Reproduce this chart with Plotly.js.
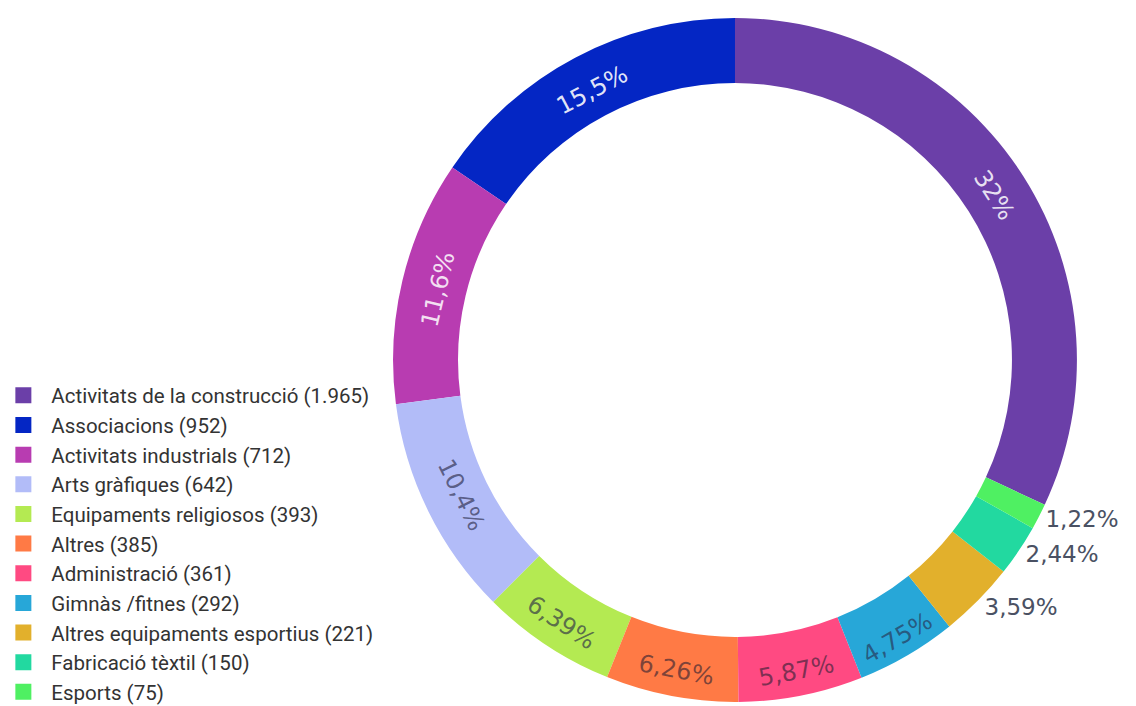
<!DOCTYPE html>
<html><head><meta charset="utf-8">
<script src="https://cdn.plot.ly/plotly-3.0.1.min.js"></script>
<style>html,body{margin:0;padding:0;background:#fff}#chart{width:1136px;height:706px}</style>
</head><body><div id="chart"></div>
<script>
const categories = ["Activitats de la construcció","Associacions","Activitats industrials","Arts gràfiques","Equipaments religiosos","Altres","Administració","Gimnàs /fitnes","Altres equipaments esportius","Fabricació tèxtil","Esports"];
const counts = [1965,952,712,642,393,385,361,292,221,150,75];
const colors = ["#6b3fa8","#0426c4","#b83cb1","#b2bcf8","#b4ea52","#ff7a45","#ff4a82","#27a7d8","#e2b02c","#22d9a0","#4ff062"];
const textColors = ["rgba(255,255,255,0.85)","rgba(255,255,255,0.9)","rgba(255,255,255,0.85)","rgba(40,40,70,0.65)","rgba(40,40,70,0.65)","rgba(40,30,50,0.6)","rgba(40,30,50,0.6)","rgba(40,40,70,0.6)","rgba(40,40,70,0.6)","rgba(40,40,70,0.6)","rgba(40,40,70,0.6)"];
const textPositions = ["inside","inside","inside","inside","inside","inside","inside","inside","outside","outside","outside"];

const legendLabels = categories.map((c,i)=> c + " (" + counts[i].toLocaleString('de-DE') + ")");

Plotly.newPlot('chart', [{
  type:'pie',
  labels: legendLabels,
  values: counts,
  marker:{colors: colors, line:{width:0}},
  hole: 0.81,
  sort:false,
  direction:'counterclockwise',
  rotation: 0,
  textinfo:'percent',
  textposition: textPositions,
  insidetextorientation:'tangential',
  insidetextfont:{family:'DejaVu Sans, sans-serif', size:24, color:textColors},
  outsidetextfont:{family:'DejaVu Sans, sans-serif', size:23, color:'#4a5163'},
  domain:{x:[0.346,0.948], y:[0.0057,0.9745]},
  hoverinfo:'label+percent'
}], {
  width:1136, height:706,
  margin:{l:0,r:0,t:0,b:0},
  separators:',.',
  showlegend:true,
  legend:{x:0.01, y:0, xanchor:'left', yanchor:'bottom', font:{family:'Roboto, sans-serif', size:20.5, color:'#333'}, itemclick:false},
  paper_bgcolor:'#fff'
}, {displayModeBar:false, staticPlot:true}).then(function(gd){
  gd.querySelectorAll('.legendpoints path').forEach(function(p){ p.setAttribute('d','M0,8H-16V-8H0Z'); });
  var lg = gd.querySelector('g.legend');
  if (lg) {
    var t = lg.getAttribute('transform') || '';
    var m = t.match(/translate\(\s*([-\d.]+)[ ,]+([-\d.]+)\s*\)/);
    if (m) lg.setAttribute('transform', 'translate(' + m[1] + ',' + (parseFloat(m[2]) + 6.5) + ')');
  }
});
</script></body></html>
